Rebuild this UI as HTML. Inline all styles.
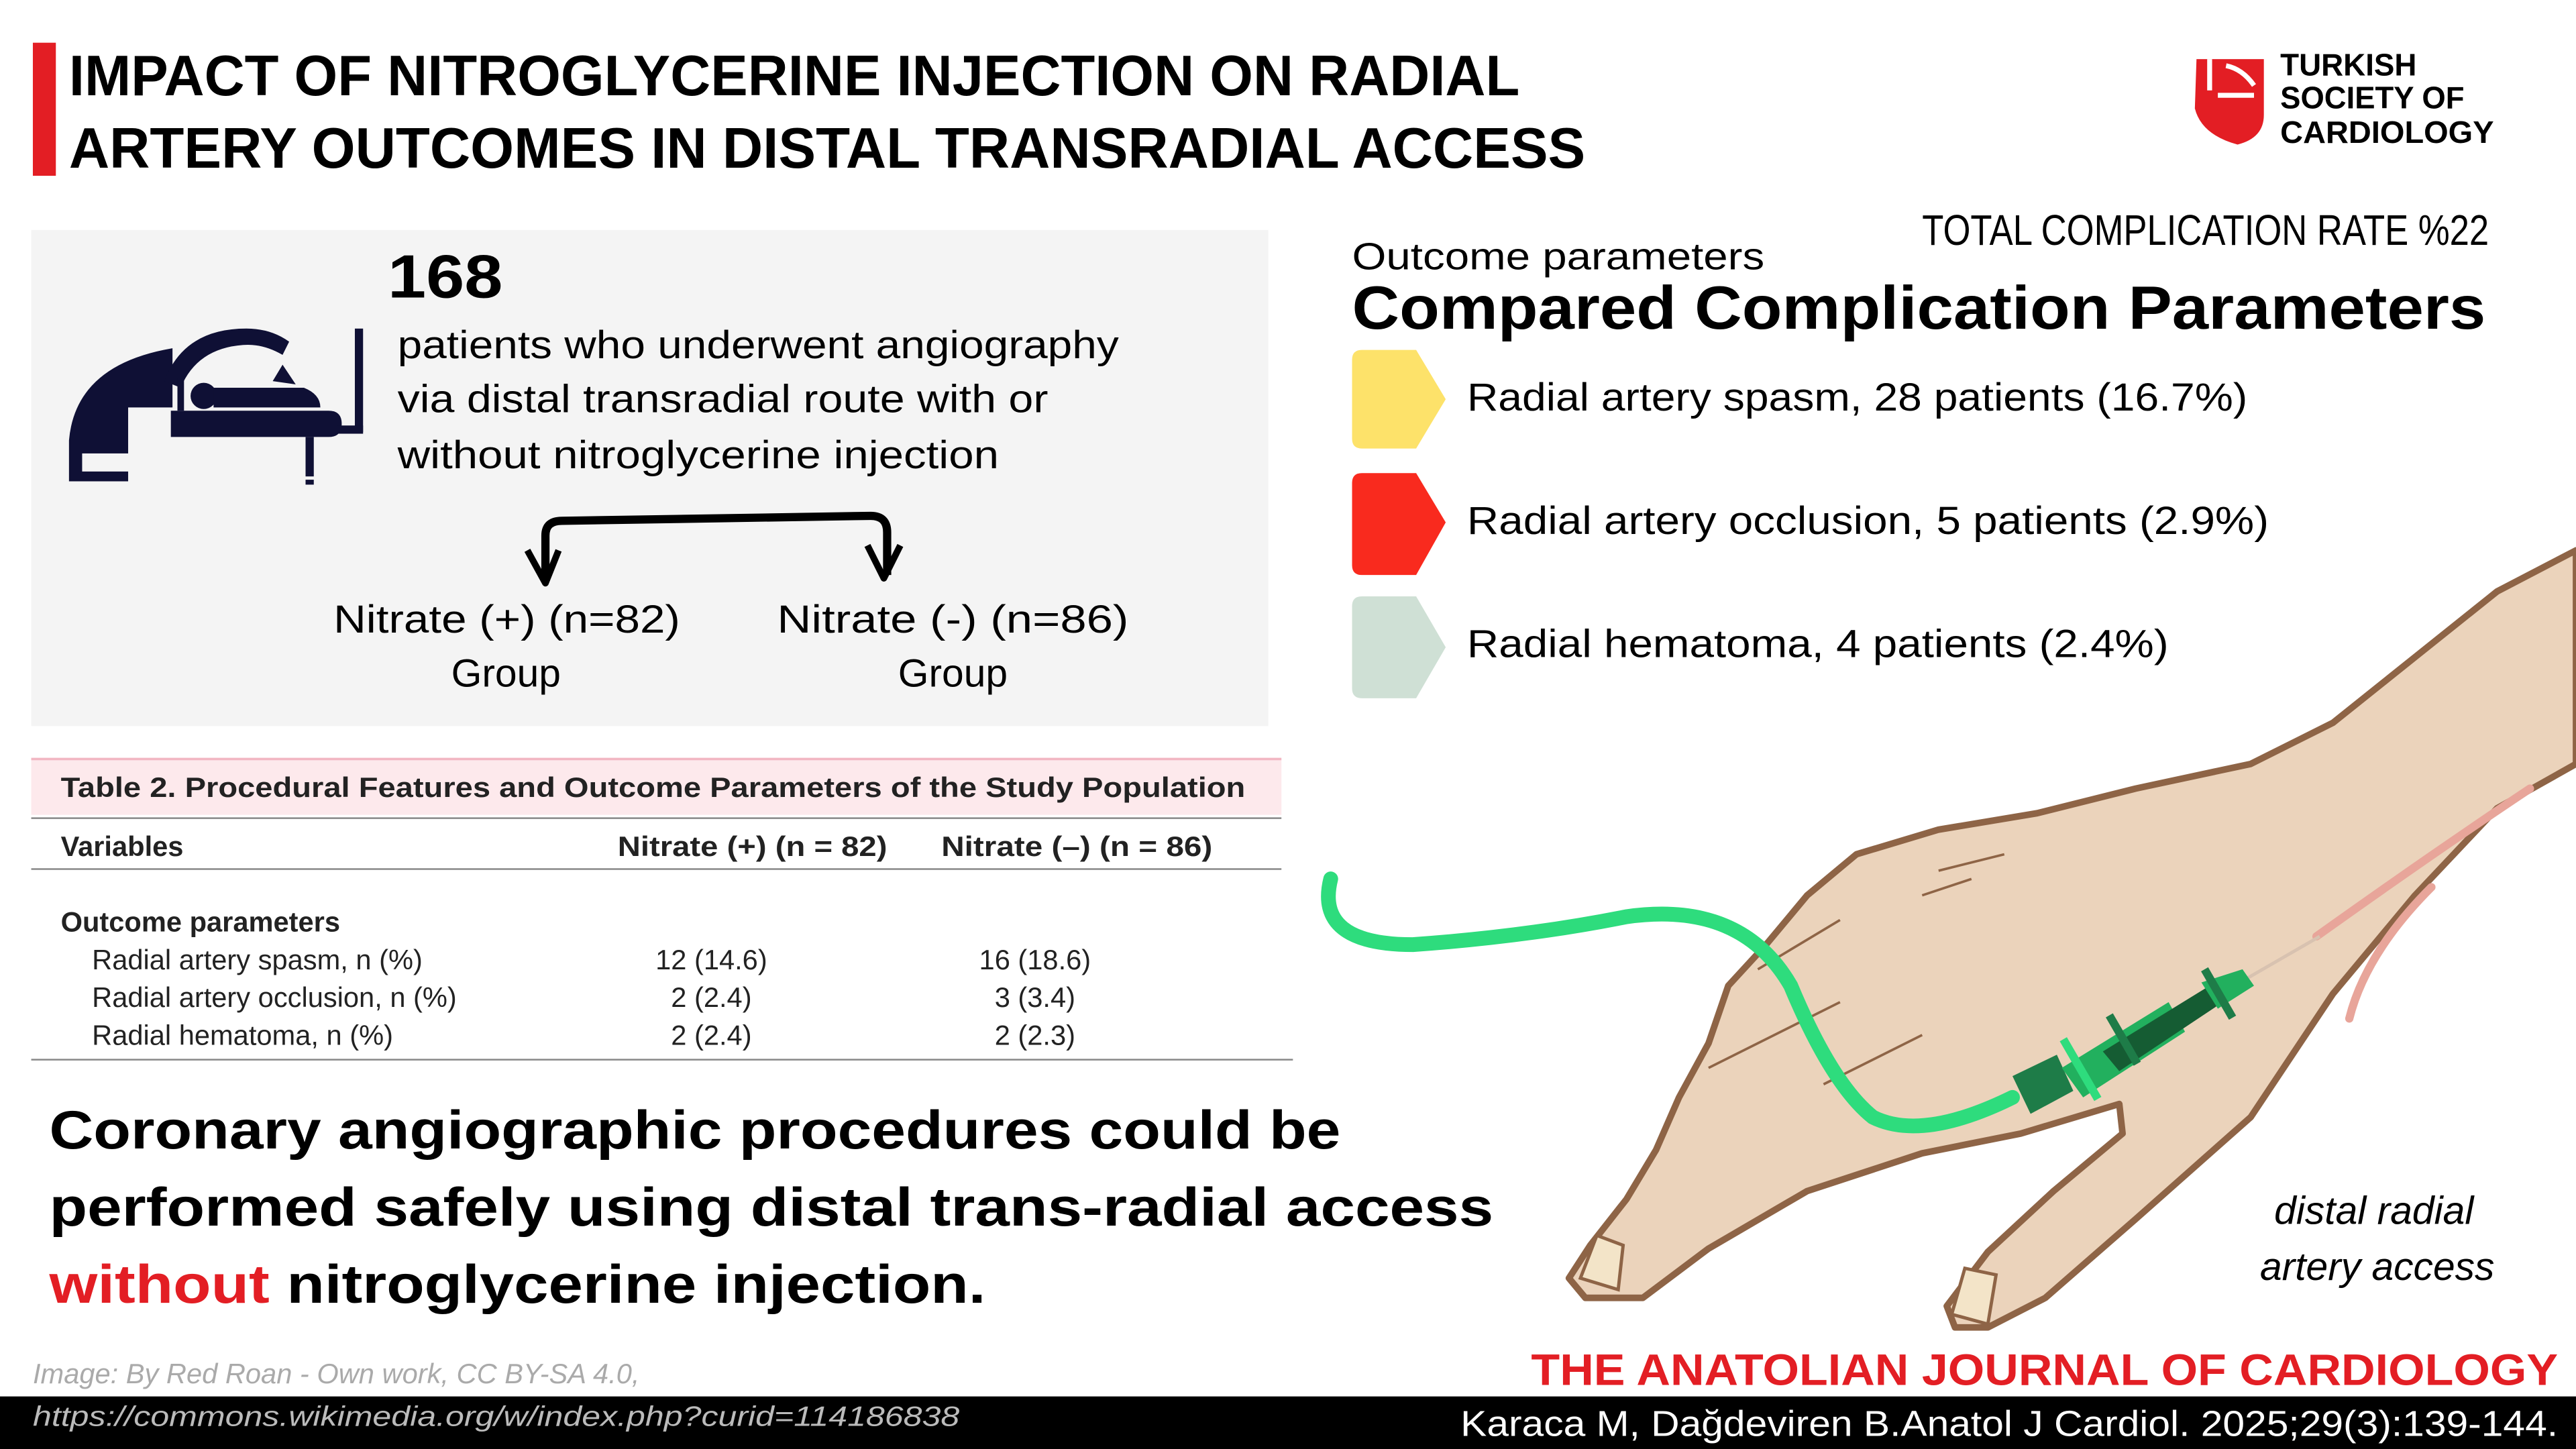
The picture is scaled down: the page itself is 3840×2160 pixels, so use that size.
<!DOCTYPE html>
<html><head><meta charset="utf-8"><style>
html,body{margin:0;padding:0;background:#fff;width:3840px;height:2160px;overflow:hidden}
svg{display:block}
text{font-family:"Liberation Sans",sans-serif}
</style></head><body>
<svg width="3840" height="2160" viewBox="0 0 1568 882" preserveAspectRatio="none" xmlns="http://www.w3.org/2000/svg">
<rect width="1568" height="882" fill="#fff"/>
<!-- title -->
<rect x="20" y="26" width="14" height="81" fill="#e31e24"/>
<text x="42" y="58" font-size="35" font-weight="bold" textLength="883" lengthAdjust="spacingAndGlyphs">IMPACT OF NITROGLYCERINE INJECTION ON RADIAL</text>
<text x="42" y="102" font-size="35" font-weight="bold" textLength="923" lengthAdjust="spacingAndGlyphs">ARTERY OUTCOMES IN DISTAL TRANSRADIAL ACCESS</text>
<!-- logo -->
<path d="M1337,36 L1378,36 L1378,70 Q1378,84 1362,88 Q1340,82 1336,66 Z" fill="#e31e24"/>
<path d="M1345,36 L1345,55 M1355,40 Q1365,42 1372,52 M1350,58 L1372,58" stroke="#fff" stroke-width="3" fill="none"/>
<text x="1388" y="46" font-size="19" font-weight="bold" textLength="83" lengthAdjust="spacingAndGlyphs">TURKISH</text>
<text x="1388" y="66" font-size="19" font-weight="bold" textLength="112" lengthAdjust="spacingAndGlyphs">SOCIETY OF</text>
<text x="1388" y="87" font-size="19" font-weight="bold" textLength="130" lengthAdjust="spacingAndGlyphs">CARDIOLOGY</text>
<!-- panel -->
<rect x="19" y="140" width="753" height="302" fill="#f4f4f4"/>
<text x="236" y="181" font-size="37" font-weight="bold" textLength="70" lengthAdjust="spacingAndGlyphs">168</text>
<text x="242" y="218" font-size="24" textLength="439" lengthAdjust="spacingAndGlyphs">patients who underwent angiography</text>
<text x="242" y="251" font-size="24" textLength="396" lengthAdjust="spacingAndGlyphs">via distal transradial route with or</text>
<text x="242" y="285" font-size="24" textLength="366" lengthAdjust="spacingAndGlyphs">without nitroglycerine injection</text>
<!-- icon -->
<g fill="#0f1035">
<path d="M42,293 L42,268 Q46,222 105,212 L105,248 L78,248 L78,293 Z"/>
<rect x="50" y="276" width="34" height="11" fill="#f4f4f4"/>
<path d="M100,232 Q112,200 150,200 Q165,200 176,208 L172,216 Q160,209 148,210 Q120,212 110,236 Z"/>
<path d="M104,250 L200,250 Q208,250 208,258 Q208,266 200,266 L104,266 Z"/>
<rect x="186" y="266" width="5" height="24"/>
<rect x="186" y="292" width="5" height="3"/>
<rect x="108" y="230" width="4" height="20"/>
<circle cx="124" cy="241" r="8"/>
<path d="M130,236 L185,236 Q195,240 195,248 L130,248 Z"/>
<path d="M166,232 L172,222 L180,234 Z"/>
<rect x="216" y="200" width="5" height="63"/>
<rect x="205" y="259" width="16" height="5"/>
</g>
<!-- split arrow -->
<path d="M332,352 L332,326 Q332,317 342,317 L530,314 Q540,314 540,324 L540,350" stroke="#000" stroke-width="5" fill="none"/>
<path d="M321,335 L332,355 L340,335 M528,332 L538,352 L548,332" stroke="#000" stroke-width="4" fill="none" stroke-linejoin="round"/>
<text x="203" y="385" font-size="24" textLength="211" lengthAdjust="spacingAndGlyphs">Nitrate (+) (n=82)</text>
<text x="308" y="418" font-size="24" text-anchor="middle">Group</text>
<text x="473" y="385" font-size="24" textLength="214" lengthAdjust="spacingAndGlyphs">Nitrate (-) (n=86)</text>
<text x="580" y="418" font-size="24" text-anchor="middle">Group</text>
<!-- table -->
<rect x="19" y="462" width="761" height="34" fill="#fde9ec"/>
<line x1="19" y1="462" x2="780" y2="462" stroke="#f2b6c2" stroke-width="1.5"/>
<text x="37" y="485" font-size="17" font-weight="bold" fill="#222" textLength="721" lengthAdjust="spacingAndGlyphs">Table 2.  Procedural Features and Outcome Parameters of the Study Population</text>
<line x1="19" y1="498" x2="780" y2="498" stroke="#888" stroke-width="1"/>
<text x="37" y="521" font-size="17" font-weight="bold" fill="#222">Variables</text>
<text x="376" y="521" font-size="17" font-weight="bold" fill="#222" textLength="164" lengthAdjust="spacingAndGlyphs">Nitrate (+) (n = 82)</text>
<text x="573" y="521" font-size="17" font-weight="bold" fill="#222" textLength="165" lengthAdjust="spacingAndGlyphs">Nitrate (–) (n = 86)</text>
<line x1="19" y1="529" x2="780" y2="529" stroke="#888" stroke-width="1"/>
<text x="37" y="567" font-size="17" font-weight="bold" fill="#222">Outcome parameters</text>
<g font-size="17" fill="#222">
<text x="56" y="590">Radial artery spasm, n (%)</text>
<text x="56" y="613">Radial artery occlusion, n (%)</text>
<text x="56" y="636">Radial hematoma, n (%)</text>
<text x="433" y="590" text-anchor="middle">12 (14.6)</text>
<text x="433" y="613" text-anchor="middle">2 (2.4)</text>
<text x="433" y="636" text-anchor="middle">2 (2.4)</text>
<text x="630" y="590" text-anchor="middle">16 (18.6)</text>
<text x="630" y="613" text-anchor="middle">3 (3.4)</text>
<text x="630" y="636" text-anchor="middle">2 (2.3)</text>
</g>
<line x1="19" y1="645" x2="787" y2="645" stroke="#888" stroke-width="1"/>
<!-- conclusion -->
<text x="30" y="699" font-size="33" font-weight="bold" textLength="786" lengthAdjust="spacingAndGlyphs">Coronary angiographic procedures could be</text>
<text x="30" y="746" font-size="33" font-weight="bold" textLength="879" lengthAdjust="spacingAndGlyphs">performed safely using distal trans-radial access</text>
<text x="30" y="793" font-size="33" font-weight="bold" textLength="570" lengthAdjust="spacingAndGlyphs"><tspan fill="#e31e24">without</tspan> nitroglycerine injection.</text>
<!-- right header -->
<text x="1170" y="149" font-size="26" textLength="345" lengthAdjust="spacingAndGlyphs" style="font-family:'Liberation Sans Narrow','Liberation Sans',sans-serif">TOTAL COMPLICATION RATE %22</text>
<text x="823" y="164" font-size="23" textLength="251" lengthAdjust="spacingAndGlyphs">Outcome parameters</text>
<text x="823" y="200" font-size="37" font-weight="bold" textLength="690" lengthAdjust="spacingAndGlyphs">Compared Complication Parameters</text>
<path d="M829,213 L862,213 L880,243 L862,273 L829,273 Q823,273 823,267 L823,219 Q823,213 829,213 Z" fill="#fde26a"/>
<path d="M829,288 L862,288 L880,318 L862,350 L829,350 Q823,350 823,344 L823,294 Q823,288 829,288 Z" fill="#f92a1e"/>
<path d="M829,363 L862,363 L880,394 L862,425 L829,425 Q823,425 823,419 L823,369 Q823,363 829,363 Z" fill="#cfe0d5"/>
<text x="893" y="250" font-size="24" textLength="475" lengthAdjust="spacingAndGlyphs">Radial artery spasm, 28 patients (16.7%)</text>
<text x="893" y="325" font-size="24" textLength="488" lengthAdjust="spacingAndGlyphs">Radial artery occlusion, 5 patients (2.9%)</text>
<text x="893" y="400" font-size="24" textLength="427" lengthAdjust="spacingAndGlyphs">Radial hematoma, 4 patients (2.4%)</text>
<!-- hand -->
<path d="M1568,335 L1520,360 L1470,400 L1420,440 L1370,465 L1300,480 L1240,495 L1180,505 L1130,520 L1100,545 L1075,575 L1052,600 L1040,635 L1022,668 L1008,700 L990,730 L968,758 L955,778 L965,790 L1000,790 L1040,760 L1100,725 L1170,702 L1230,690 L1290,672 L1292,690 L1250,725 L1210,762 L1185,795 L1190,808 L1210,808 L1245,790 L1300,742 L1370,680 L1420,605 L1470,545 L1520,492 L1568,465 Z" fill="#ebd3bb" stroke="#8e6446" stroke-width="4" stroke-linejoin="round"/>
<path d="M962,778 L972,752 L988,758 L985,785 Z" fill="#f3e4c8" stroke="#8e6446" stroke-width="2"/>
<path d="M1188,800 L1196,772 L1215,776 L1210,806 Z" fill="#f3e4c8" stroke="#8e6446" stroke-width="2"/>
<path d="M1070,590 L1120,560 M1040,650 L1120,610 M1110,660 L1170,630 M1180,530 L1220,520 M1170,545 L1200,535" stroke="#8e6446" stroke-width="1.5" fill="none"/>
<path d="M1410,570 Q1480,520 1540,480 M1430,620 Q1440,580 1480,540" stroke="#e8a59a" stroke-width="5" fill="none" stroke-linecap="round"/>
<!-- tube & catheter -->
<path d="M810,535 Q800,575 860,575 Q930,570 990,558 Q1060,548 1090,600 Q1115,660 1140,680 Q1170,695 1225,668" stroke="#2edc7d" stroke-width="9" fill="none" stroke-linecap="round"/>
<line x1="1360" y1="600" x2="1412" y2="570" stroke="#d8c2b0" stroke-width="2"/>
<path d="M1225,655 L1252,642 L1262,664 L1236,678 Z" fill="#1e7c48"/>
<path d="M1255,650 L1320,610 L1330,628 L1268,668 Z" fill="#22b05e"/>
<path d="M1280,640 L1345,600 L1350,612 L1290,652 Z" fill="#155c33"/>
<path d="M1340,598 L1365,590 L1372,600 L1350,614 Z" fill="#22b05e"/>
<rect x="1264" y="630" width="5" height="42" fill="#2edc7d" transform="rotate(-30 1266 651)"/>
<rect x="1290" y="616" width="5" height="34" fill="#1e7c48" transform="rotate(-30 1292 633)"/>
<rect x="1348" y="588" width="5" height="34" fill="#1e7c48" transform="rotate(-30 1350 605)"/>
<text x="1445" y="745" font-size="24" font-style="italic" text-anchor="middle">distal radial</text>
<text x="1447" y="779" font-size="24" font-style="italic" text-anchor="middle">artery access</text>
<!-- footer -->
<text x="932" y="843" font-size="27" font-weight="bold" fill="#e31e24" textLength="625" lengthAdjust="spacingAndGlyphs">THE ANATOLIAN JOURNAL OF CARDIOLOGY</text>
<text x="20" y="842" font-size="17" font-style="italic" fill="#aaa">Image: By Red Roan - Own work, CC BY-SA 4.0,</text>
<rect x="0" y="850" width="1568" height="32" fill="#000"/>
<text x="20" y="868" font-size="17" font-style="italic" fill="#bbb" textLength="564" lengthAdjust="spacingAndGlyphs">https://commons.wikimedia.org/w/index.php?curid=114186838</text>
<text x="889" y="874" font-size="22" fill="#fff" textLength="668" lengthAdjust="spacingAndGlyphs">Karaca M, Dağdeviren B.Anatol J Cardiol. 2025;29(3):139-144.</text>
</svg>
</body></html>
